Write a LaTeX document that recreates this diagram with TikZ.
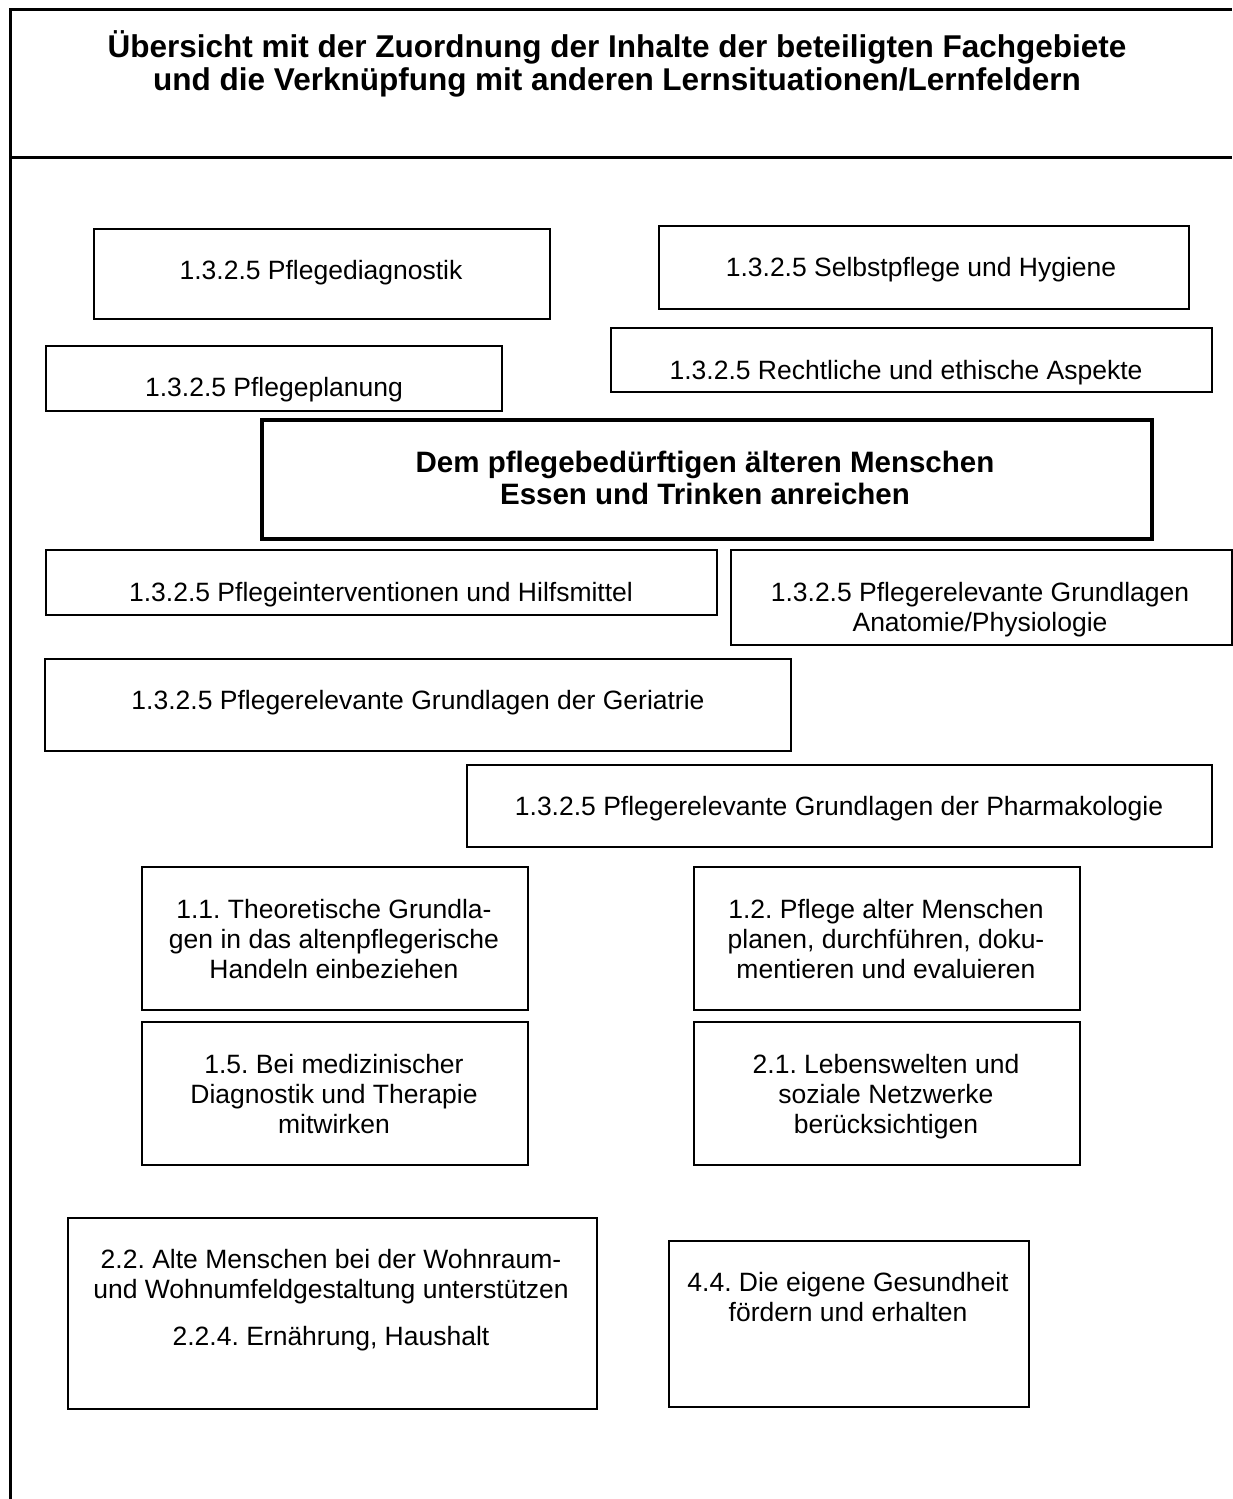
\documentclass[tikz,border=0pt]{standalone}
\usepackage{fontspec}
\setmainfont{Liberation Sans}
\frenchspacing
\newcommand{\stk}[1]{\vtop{\halign{\hfil##\hfil\cr#1\crcr}}}
\begin{document}
\begin{tikzpicture}[x=1pt,y=-1pt,
  box/.style={draw,line width=1.5pt,anchor=north west,inner sep=0pt},
  mainbox/.style={box,line width=4pt},
  txt/.style={anchor=base,inner sep=0pt,font=\fontsize{26.5}{30}\selectfont},
  bold/.style={anchor=base,inner sep=0pt,font=\fontsize{29.5}{32}\selectfont\bfseries},
  ttl/.style={anchor=base,inner sep=0pt,font=\fontsize{31.5}{33}\selectfont\bfseries}]
\useasboundingbox (0,0) rectangle (1232,1499);
% frame
\draw[line width=3pt] (10,1499) -- (10,9) -- (1232,9);
\draw[line width=3pt] (10,157) -- (1232,157);
\node[ttl] (title) at (617,57) {\stk{Übersicht mit der Zuordnung der Inhalte der beteiligten Fachgebiete\cr und die Verknüpfung mit anderen Lernsituationen/Lernfeldern}};
% boxes
\node[box,minimum width=456pt,minimum height=90pt] (b1) at (93,228) {};
\node[box,minimum width=530pt,minimum height=83pt] (b2) at (658,225) {};
\node[box,minimum width=456pt,minimum height=65pt] (b3) at (45,345) {};
\node[box,minimum width=601pt,minimum height=64pt] (b4) at (610,327) {};
\node[mainbox,minimum width=890pt,minimum height=119pt] (b5) at (260,418) {};
\node[box,minimum width=671pt,minimum height=65pt] (b6) at (45,549) {};
\node[box,minimum width=501pt,minimum height=95pt] (b7) at (730,549) {};
\node[box,minimum width=746pt,minimum height=92pt] (b8) at (44,658) {};
\node[box,minimum width=745pt,minimum height=82pt] (b9) at (466,764) {};
\node[box,minimum width=386pt,minimum height=143pt] (b10) at (141,866) {};
\node[box,minimum width=386pt,minimum height=143pt] (b11) at (693,866) {};
\node[box,minimum width=386pt,minimum height=143pt] (b12) at (141,1021) {};
\node[box,minimum width=386pt,minimum height=143pt] (b13) at (693,1021) {};
\node[box,minimum width=529pt,minimum height=191pt] (b14) at (67,1217) {};
\node[box,minimum width=360pt,minimum height=166pt] (b15) at (668,1240) {};
% texts
\node[txt] (t1) at (321,279) {1.3.2.5 Pflegediagnostik};
\node[txt] (t2) at (921,276) {1.3.2.5 Selbstpflege und Hygiene};
\node[txt] (t3) at (274,396) {1.3.2.5 Pflegeplanung};
\node[txt] (t4) at (906,379) {1.3.2.5 Rechtliche und ethische Aspekte};
\node[bold] (t5) at (705,472) {\stk{Dem pflegebedürftigen älteren Menschen\cr Essen und Trinken anreichen}};
\node[txt] (t6) at (381,601) {1.3.2.5 Pflegeinterventionen und Hilfsmittel};
\node[txt] (t7) at (980,601) {\stk{1.3.2.5 Pflegerelevante Grundlagen\cr Anatomie/Physiologie}};
\node[txt] (t8) at (418,709) {1.3.2.5 Pflegerelevante Grundlagen der Geriatrie};
\node[txt] (t9) at (839,815) {1.3.2.5 Pflegerelevante Grundlagen der Pharmakologie};
\node[txt] (t10) at (334,918) {\stk{1.1. Theoretische Grundla-\cr gen in das altenpflegerische\cr Handeln einbeziehen}};
\node[txt] (t11) at (886,918) {\stk{1.2. Pflege alter Menschen\cr planen, durchführen, doku-\cr mentieren und evaluieren}};
\node[txt] (t12) at (334,1073) {\stk{1.5. Bei medizinischer\cr Diagnostik und Therapie\cr mitwirken}};
\node[txt] (t13) at (886,1073) {\stk{2.1. Lebenswelten und\cr soziale Netzwerke\cr berücksichtigen}};
\node[txt] (t14) at (331,1268) {\stk{2.2. Alte Menschen bei der Wohnraum-\cr und Wohnumfeldgestaltung unterstützen\cr\noalign{\vskip 17pt} 2.2.4. Ernährung, Haushalt}};
\node[txt] (t15) at (848,1291) {\stk{4.4. Die eigene Gesundheit\cr fördern und erhalten}};
\end{tikzpicture}
\end{document}
